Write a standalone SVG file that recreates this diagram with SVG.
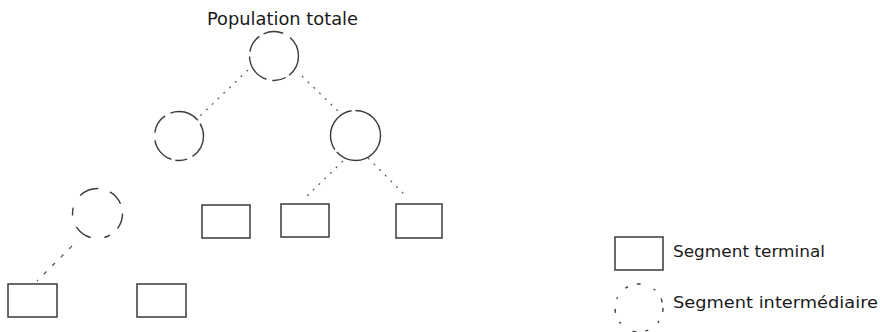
<svg xmlns="http://www.w3.org/2000/svg" width="880" height="332" viewBox="0 0 880 332">
<style>
  .seg { fill: none; stroke: #3a3a3a; stroke-width: 1.4; }
  .box { fill: #ffffff; stroke: #3a3a3a; stroke-width: 1.5; }
  .link { fill: none; stroke: #555; stroke-width: 1.2; stroke-dasharray: 2 6; }
  .lbl { font-family: "DejaVu Sans", "Liberation Sans", sans-serif; fill: #1a1a1a; }
</style>
<rect width="880" height="332" fill="#ffffff"/>

<g id="connectors">
  <line class="link" x1="248" y1="70" x2="200" y2="116"/>
  <line class="link" x1="302" y1="76" x2="338" y2="111"/>
  <line class="link" x1="343" y1="161" x2="305" y2="198"/>
  <line class="link" x1="368" y1="158" x2="404" y2="194"/>
  <line class="link" x1="72" y1="246" x2="37" y2="281" style="stroke-dasharray: 4 8"/>
</g>

<g id="title">
  <text class="lbl" x="207" y="25" font-size="18" textLength="151" lengthAdjust="spacingAndGlyphs">Population totale</text>
</g>

<g id="node-root">
  <circle class="seg" cx="274" cy="56" r="24.5" stroke-dasharray="22 4 14 6 30 5 18 5 20 8"/>
</g>
<g id="node-mid-left">
  <circle class="seg" cx="179" cy="136" r="24.5" stroke-dasharray="24 6 12 4 26 8 20 6 30 4"/>
</g>
<g id="node-mid-right">
  <circle class="seg" cx="355.5" cy="135.5" r="25" stroke-dasharray="60 3 50 4 40"/>
</g>
<g id="node-low-left">
  <circle class="seg" cx="97.5" cy="213.5" r="25" stroke-dasharray="16 10 6 14 18 12 8 14 20 12"/>
</g>

<g id="leaf-1"><rect class="box" x="202" y="205" width="48" height="33"/></g>
<g id="leaf-2"><rect class="box" x="281" y="204" width="48" height="33"/></g>
<g id="leaf-3"><rect class="box" x="396" y="204" width="46" height="34"/></g>
<g id="leaf-4"><rect class="box" x="8" y="284" width="49" height="33"/></g>
<g id="leaf-5"><rect class="box" x="137" y="284" width="49" height="33"/></g>

<g id="legend-terminal">
  <rect class="box" x="615" y="237" width="48" height="33"/>
  <text class="lbl" x="673" y="257" font-size="15" textLength="152" lengthAdjust="spacingAndGlyphs">Segment terminal</text>
</g>
<g id="legend-intermediate">
  <circle class="seg" cx="639" cy="308" r="24" stroke-dasharray="4 10 2 12 3 9 4 14 2 10"/>
  <text class="lbl" x="673" y="308" font-size="15" textLength="205" lengthAdjust="spacingAndGlyphs">Segment intermédiaire</text>
</g>
</svg>
